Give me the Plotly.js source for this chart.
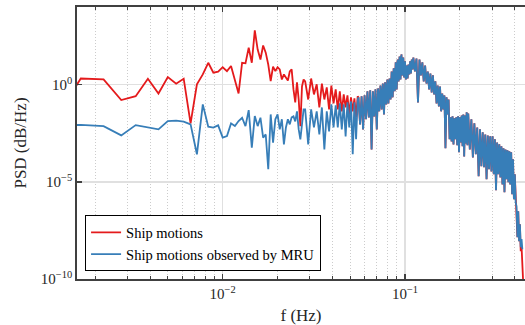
<!DOCTYPE html>
<html>
<head>
<meta charset="utf-8">
<script src="https://cdn.plot.ly/plotly-3.0.1.min.js"></script>
<style>html,body{margin:0;padding:0;background:#fff;overflow:hidden}</style>
</head>
<body>
<div id="chart" style="width:525px;height:325px"></div>
<script>
// Frequency resolution of the spectra (Hz per bin)
const df = 1 / 1800;

// Low-frequency bins (every bin)
const binsLow = [2,3,4,5,6,7,8,9,10,11,12,13,14,15,16,17,18,19,20,21,22,23,24,25,26,27,28,29,30,31,32,33,34,35,36,37,38,39,40,41,42,43,44,45,46,47,48,49,50];
const redLowDb = [-23.0,3.2,2.7,-7.9,-5.9,3.1,-4.5,3.9,0.5,3.1,-19.9,0.2,5.3,11.3,6.2,6.7,9.0,7.0,9.6,2.7,-4.5,11.3,11.0,19.0,11.3,28.0,18.1,13.0,20.2,16.5,10.4,1.9,9.3,7.0,9.0,7.9,2.7,5.3,3.8,2.2,6.8,7.9,-2.4,-9.1,1.2,-7.6,-21.4,-0.9,2.7];
const blueLowDb = [-20.9,-20.7,-21.3,-26.1,-20.8,-21.8,-23.0,-18.7,-18.5,-19.0,-20.4,-35.8,-10.1,-21.6,-22.1,-20.9,-27.2,-26.4,-19.9,-21.3,-18.7,-17.0,-21.3,-13.1,-32.4,-16.1,-21.3,-17.0,-27.2,-25.6,-43.5,-15.3,-29.8,-17.8,-15.3,-23.0,-17.8,-30.7,-22.0,-17.8,-20.4,-16.8,-16.3,-18.9,-13.7,-23.0,-28.1,-20.4,-12.7];

// Mid-frequency bins (where the two spectra still differ)
const binsMid = [51,53,55,57,59,61,63,65,67,69,71,73,75,77,79,81,83,85,87,89,91,93,95,97,99];
const redMidDb = [1.7,-7.6,3.2,-5.0,0.2,-11.7,0.6,-7.6,-1.4,-12.7,-0.4,-9.6,-2.4,-12.7,-3.4,-13.7,-5.0,-11.7,-5.5,-15.3,-6.5,-13.7,-7.0,-16.8,-6.0];
const blueMidDb = [-12.7,-30.7,-12.7,-22.0,-13.7,-25.6,-11.7,-33.3,-13.7,-24.0,-10.1,-22.0,-10.6,-22.0,-9.6,-23.0,-10.1,-26.6,-9.1,-22.0,-8.6,-35.8,-9.1,-28.1,-8.1];

// High-frequency bins (both spectra coincide)
const binsHigh = [100,102,104,106,108,110,112,114,116,118,120,122,124,126,128,130,132,134,136,138,140,142,144,146,148,150,152,154,156,158,160,162,164,166,168,170,172,174,176,178,180,182,184,186,188,190,192,194,196,198,200,
  204,208,212,216,220,224,228,232,236,240,244,248,252,256,260,264,268,272,276,280,284,288,292,296,300,304,308,312,316,320,324,328,332,336,340,344,348,352,356,360,364,368,372,376,380,384,388,392,396,400,
  408,416,424,432,440,448,456,464,472,480,488,496,504,512,520,528,536,544,552,560,568,576,584,592,600,608,616,624,632,640,648,656,664,672,680,688,696,704,712,720,728,736,744,752,760,768,776,784,792];
const sharedHighDb = [-6.5,-20.4,-6.0,-23.0,-5.5,-17.8,-3.4,-16.8,-2.9,-33.3,-3.4,-16.3,-2.4,-23.0,-1.9,-13.7,-0.4,-12.7,0.6,-15.3,1.2,-10.1,2.7,-9.6,3.2,-7.6,6.8,-6.5,8.4,-3.4,11.5,-2.4,13.0,1.7,14.5,2.7,15.6,4.8,14.0,3.7,12.0,2.7,9.9,3.2,10.4,5.3,12.0,5.8,13.0,7.9,14.0,
  6.8,13.5,-9.1,13.0,4.8,11.5,1.7,9.9,0.6,6.8,-2.4,5.8,-4.0,4.8,-5.0,1.7,-9.6,-0.4,-11.2,-0.9,-13.7,-4.5,-12.7,-5.5,-32.7,-6.5,-15.3,-7.6,-28.1,-16.8,-29.2,-16.3,-30.7,-17.3,-28.1,-16.8,-31.2,-16.3,-34.8,-16.8,-29.7,-15.8,-31.7,-15.3,-36.9,-15.8,-30.2,-14.2,-31.2,-14.8,
  -33.3,-17.8,-37.4,-19.9,-35.8,-22.0,-47.1,-23.0,-42.0,-24.5,-42.5,-25.6,-48.7,-26.1,-43.5,-26.6,-44.6,-26.6,-46.1,-28.1,-54.3,-29.7,-46.1,-30.7,-47.7,-31.7,-51.3,-32.7,-55.4,-33.3,-48.7,-33.8,-50.2,-34.3,-51.3,-34.8,-56.4,-38.4,-59.0,-46.1,-60.5,-62.6,-78.5,-65.2,-80.6,-71.8,-83.6,-79.5,-84.7];

// Tail of the ship-motion spectrum beyond the shared part
const redTailBins = [776,784,792,800,808];
const redTailDb = [-85.7,-83.1,-92.4,-99.1,-110.4];

const seriesNames = ['Ship motions', 'Ship motions observed by MRU'];
const xTickVals = [0.01, 0.1];
const xTickText = ['10<sup>\u22122</sup>', '10<sup>\u22121</sup>'];
const xMinorVals = [0.002,0.003,0.004,0.005,0.006,0.007,0.008,0.009,0.02,0.03,0.04,0.05,0.06,0.07,0.08,0.09,0.2,0.3,0.4];
const yTickVals = [1e-10, 1e-5, 1];
const yTickText = ['10<sup>\u221210</sup>', '10<sup>\u22125</sup>', '10<sup>0</sup>'];

const toHz = b => b * df;
const fromDb = d => Math.pow(10, d / 10);

const nShared = binsHigh.filter(b => b < 776).length;
const redBins = binsLow.concat(binsMid, binsHigh.slice(0, nShared), redTailBins);
const redDb = redLowDb.concat(redMidDb, sharedHighDb.slice(0, nShared), redTailDb);
const blueBins = binsLow.concat(binsMid, binsHigh);
const blueDb = blueLowDb.concat(blueMidDb, sharedHighDb);

const serif = 'Liberation Serif, DejaVu Serif, serif';
const axisCol = '#404040';
const textCol = '#262626';

const traces = [
  {x: redBins.map(toHz), y: redDb.map(fromDb), type: 'scatter', mode: 'lines', name: seriesNames[0],
   line: {color: '#E41A1C', width: 1.8}},
  {x: blueBins.map(toHz), y: blueDb.map(fromDb), type: 'scatter', mode: 'lines', name: seriesNames[1],
   line: {color: '#377EB8', width: 1.8}}
];

const layout = {
  width: 525, height: 325,
  margin: {l: 77, r: 0, t: 7, b: 46},
  paper_bgcolor: '#fff', plot_bgcolor: '#fff',
  font: {family: serif, color: textCol, size: 15},
  showlegend: true,
  legend: {x: 0.018, y: 0.028, xanchor: 'left', yanchor: 'bottom', bgcolor: '#fff',
           bordercolor: '#000', borderwidth: 1, font: {family: serif, size: 14.5, color: '#000'},
           itemwidth: 30, tracegroupgap: 0},
  xaxis: {type: 'log', range: [-2.799, -0.342], showline: true, linecolor: axisCol, linewidth: 1.8,
          mirror: 'ticks', ticks: 'inside', ticklen: 5, tickcolor: axisCol, tickwidth: 1.5,
          tickmode: 'array', tickvals: xTickVals, ticktext: xTickText,
          showgrid: true, gridcolor: '#e0e0e0', gridwidth: 1.5, zeroline: false,
          tickfont: {family: serif, size: 15, color: textCol},
          minor: {tickmode: 'array', tickvals: xMinorVals, ticks: 'inside', ticklen: 3, tickcolor: axisCol,
                  tickwidth: 1, showgrid: true, gridcolor: '#cccccc', griddash: '1px,2px', gridwidth: 1},
          title: {text: 'f (Hz)', font: {family: serif, size: 17, color: textCol}, standoff: 8}},
  yaxis: {type: 'log', range: [-10, 4], showline: true, linecolor: axisCol, linewidth: 1.8,
          mirror: false, ticks: 'inside', ticklen: 5, tickcolor: axisCol, tickwidth: 1.5,
          tickmode: 'array', tickvals: yTickVals, ticktext: yTickText,
          showgrid: true, gridcolor: '#e0e0e0', gridwidth: 1.5, zeroline: false,
          tickfont: {family: serif, size: 15, color: textCol},
          title: {text: 'PSD (dB/Hz)', font: {family: serif, size: 17, color: textCol}, standoff: 10}}
};

Plotly.newPlot('chart', traces, layout, {displayModeBar: false, staticPlot: true});
</script>
</body>
</html>
